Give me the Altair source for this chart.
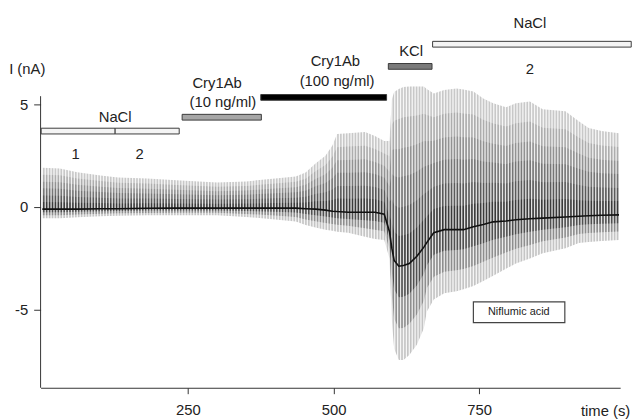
import altair as alt
import numpy as np
import pandas as pd

# ---- trace envelope (time in s, current in nA) ----
T = [0, 30, 60, 100, 130, 180, 230, 300, 350, 400, 435, 452, 469, 486, 498, 506,
     525, 554, 571, 587, 596, 600, 604, 612, 620, 630, 643, 655, 660, 672, 690,
     711, 723, 740, 757, 774, 796, 813, 837, 859, 898, 921, 938, 960, 990]
UPPER = [1.92, 1.88, 1.70, 1.54, 1.44, 1.39, 1.30, 1.20, 1.25, 1.39, 1.49, 1.68,
         2.12, 2.50, 3.00, 3.56, 3.60, 3.65, 3.46, 3.22, 3.22, 5.24, 5.60, 5.75,
         5.85, 5.87, 5.87, 5.87, 5.75, 5.53, 5.70, 5.77, 5.72, 5.63, 5.29, 5.05,
         4.86, 5.05, 5.14, 4.76, 4.66, 4.18, 3.85, 3.70, 3.60]
BASE = [-0.10, -0.10, -0.10, -0.08, -0.08, -0.06, -0.05, -0.05, -0.05, -0.05,
        -0.05, -0.08, -0.10, -0.15, -0.20, -0.22, -0.25, -0.25, -0.25, -0.35,
        -1.20, -2.00, -2.60, -2.88, -2.85, -2.75, -2.40, -1.95, -1.73, -1.25,
        -1.10, -1.10, -1.10, -0.96, -0.85, -0.72, -0.68, -0.62, -0.57, -0.54,
        -0.48, -0.45, -0.42, -0.40, -0.38]
LOWER = [-0.55, -0.55, -0.50, -0.45, -0.42, -0.40, -0.40, -0.40, -0.48, -0.60,
         -0.70, -0.87, -1.00, -1.10, -1.15, -1.20, -1.25, -1.44, -1.55, -1.60,
         -2.50, -5.50, -6.90, -7.45, -7.45, -7.20, -6.70, -5.90, -5.10, -4.50,
         -4.20, -4.10, -4.00, -3.85, -3.60, -3.35, -3.00, -2.75, -2.50, -2.25,
         -2.00, -1.75, -1.70, -1.65, -1.60]

SWEEP_PERIOD = 5  # s between voltage-step sweeps
SWEEP_END = 990

# ---- application bars ----
BAR_T0 = [-2, 125, 240, 375, 594, 670]
BAR_T1 = [125, 235, 376, 591, 669, 1011]
BAR_Y = [3.70, 3.70, 4.375, 5.34, 6.85, 7.93]
BAR_FILL = ["#f4f4f4", "#f4f4f4", "#a6a6a6", "#000000", "#7a7a7a", "#f4f4f4"]

# ---- labels ----
LABELS = ["NaCl", "1", "2", "Cry1Ab", "(10 ng/ml)", "Cry1Ab", "(100 ng/ml)",
          "KCl", "NaCl", "2"]
LABEL_T = [125, 57, 167, 300, 310, 503, 506, 633, 837, 837]
LABEL_Y = [4.40, 2.60, 2.60, 6.06, 5.10, 7.10, 6.15, 7.60, 8.94, 6.73]

W, H = 587, 378
X_DOM = [-3, 992]
Y_DOM = [-8.8, 9.375]
Y_AXIS_TOP = 5.4
FONT = "Liberation Sans"
TXT = "#222222"

xs = alt.Scale(domain=X_DOM, nice=False, zero=False)
ys = alt.Scale(domain=Y_DOM, nice=False, zero=False)
x_axis = alt.Axis(values=[250, 500, 750], title=None, domain=True, grid=False,
                  tickSize=6, labelPadding=9, labelFontSize=15, labelFont=FONT,
                  labelColor=TXT, domainColor="#333", tickColor="#333",
                  zindex=1)
y_axis = alt.Axis(values=[-5, 0, 5], title=None, domain=False, grid=False,
                  tickSize=7, labelPadding=6, labelFontSize=15, labelFont=FONT,
                  labelColor=TXT, tickColor="#333", zindex=1,
                  labelExpr="'' + datum.value")


def X(f):
    return alt.X(f, type="quantitative", scale=xs, axis=x_axis)


def Y(f):
    return alt.Y(f, type="quantitative", scale=ys, axis=y_axis)


df = pd.DataFrame({"t": T, "u": UPPER, "b": BASE, "l": LOWER})

layers = []
UP_FRACS = [1.0, 0.83, 0.66, 0.5, 0.33, 0.17]
UP_COLORS = ["#c8c8c8", "#adadad", "#929292", "#767676", "#5a5a5a", "#3a3a3a"]
for f, c in zip(UP_FRACS, UP_COLORS):
    d = df.assign(edge=df.b + (df.u - df.b) * f)
    layers.append(alt.Chart(d).mark_area(color=c).encode(
        x=X("t"), y=Y("edge"), y2="b:Q"))
LO_FRACS = [1.0, 0.66, 0.33]
LO_COLORS = ["#c4c4c4", "#8e8e8e", "#505050"]
for f, c in zip(LO_FRACS, LO_COLORS):
    d = df.assign(edge=df.b + (df.l - df.b) * f)
    layers.append(alt.Chart(d).mark_area(color=c).encode(
        x=X("t"), y=Y("edge"), y2="b:Q"))

# gaps between sweeps
sweeps = pd.DataFrame({"t": np.arange(0, SWEEP_END + 1, SWEEP_PERIOD)})
layers.append(alt.Chart(sweeps).mark_rule(color="white", strokeWidth=1.3,
                                          opacity=0.85).encode(
    x=X("t"), y=alt.value(0), y2=alt.value(H)))

# holding current
layers.append(alt.Chart(df).mark_line(color="#111", strokeWidth=1.6).encode(
    x=X("t"), y=Y("b")))

# y axis line
yax = pd.DataFrame({"t": [X_DOM[0]], "y0": [Y_DOM[0]], "y1": [Y_AXIS_TOP]})
layers.append(alt.Chart(yax).mark_rule(color="#333", strokeWidth=1).encode(
    x=X("t"), y=Y("y0"), y2="y1:Q"))

# application bars
bars = pd.DataFrame({"t0": BAR_T0, "t1": BAR_T1,
                     "y0": [v - 0.14 for v in BAR_Y],
                     "y1": [v + 0.14 for v in BAR_Y], "fill": BAR_FILL})
layers.append(alt.Chart(bars).mark_rect(stroke="#3a3a3a", strokeWidth=1).encode(
    x=X("t0"), x2="t1:Q", y=Y("y0"), y2="y1:Q",
    fill=alt.Fill("fill:N", scale=None)))

labels = pd.DataFrame({"txt": LABELS, "t": LABEL_T, "v": LABEL_Y})
layers.append(alt.Chart(labels).mark_text(font=FONT, fontSize=15, color=TXT,
                                          baseline="middle").encode(
    x=X("t"), y=Y("v"), text="txt:N"))

# Niflumic acid box
nif = pd.DataFrame({"t0": [740], "t1": [897], "y0": [-5.63], "y1": [-4.62],
                    "tc": [818], "yc": [-5.12], "txt": ["Niflumic acid"]})
layers.append(alt.Chart(nif).mark_rect(fill="white", stroke="#444",
                                       strokeWidth=1.2).encode(
    x=X("t0"), x2="t1:Q", y=Y("y0"), y2="y1:Q"))
layers.append(alt.Chart(nif).mark_text(font=FONT, fontSize=11, color=TXT,
                                       baseline="middle").encode(
    x=X("tc"), y=Y("yc"), text="txt:N"))

# axis titles
ytitle = pd.DataFrame({"txt": ["I (nA)"], "t": [-57], "v": [6.73]})
layers.append(alt.Chart(ytitle).mark_text(font=FONT, fontSize=15, color=TXT,
                                          baseline="middle", align="left").encode(
    x=X("t"), y=Y("v"), text="txt:N"))
xtitle = pd.DataFrame({"txt": ["time (s)"], "t": [967], "v": [-9.95]})
layers.append(alt.Chart(xtitle).mark_text(font=FONT, fontSize=15, color=TXT,
                                          baseline="middle").encode(
    x=X("t"), y=Y("v"), text="txt:N"))

chart = alt.layer(*layers).properties(
    width=W, height=H,
    autosize=alt.AutoSizeParams(type="none"),
    padding={"left": 33, "top": 4, "right": 13, "bottom": 29},
    background="white",
).configure_view(stroke=None)

chart.save("out.html", embed_options={"renderer": "svg", "actions": False})
